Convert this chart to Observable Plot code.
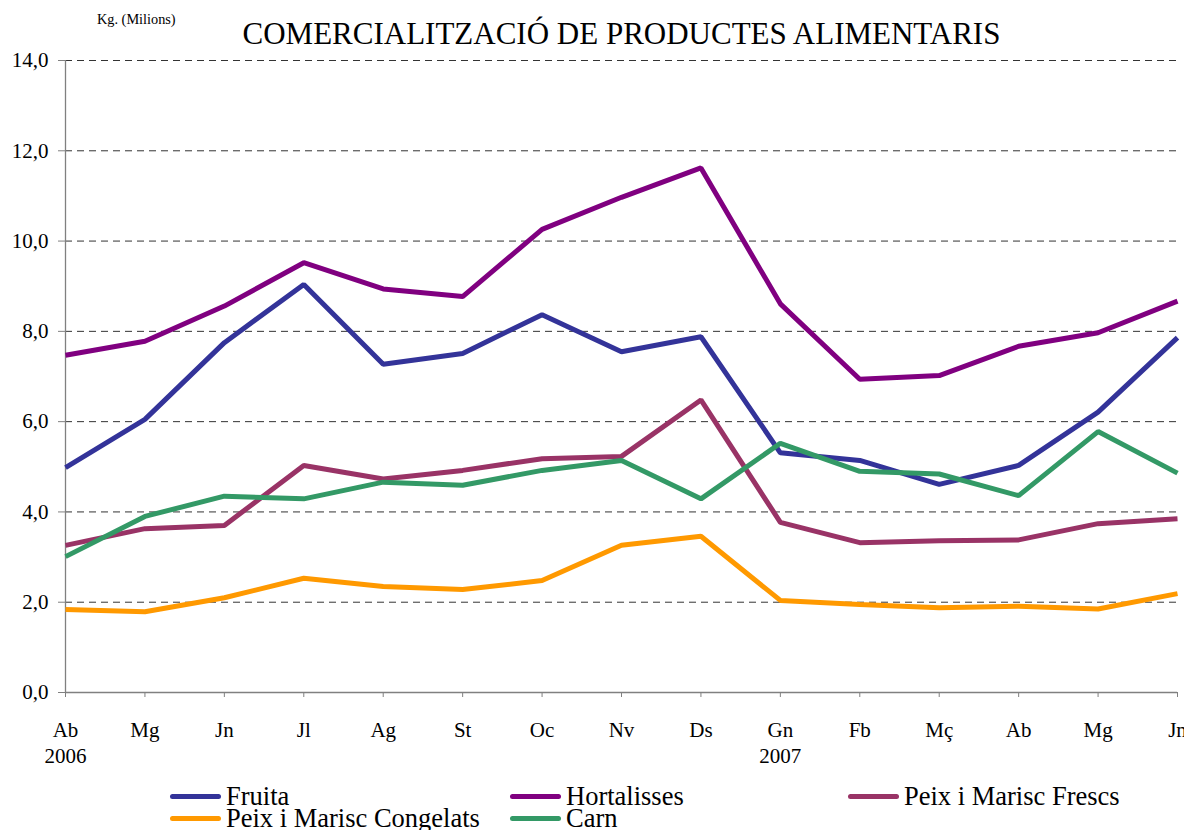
<!DOCTYPE html>
<html><head><meta charset="utf-8">
<script src="https://cdn.jsdelivr.net/npm/d3@7"></script>
<script src="https://cdn.jsdelivr.net/npm/@observablehq/plot@0.6"></script>
<style>
body{margin:0;background:#fff;font-family:"Liberation Serif","Times New Roman",serif;color:#000;}
#wrap{position:relative;width:1184px;height:830px;overflow:hidden;}
#chart{position:absolute;left:0;top:0;}
.t{position:absolute;line-height:1;white-space:nowrap;}
#title{left:0;width:1243px;text-align:center;top:18px;font-size:31px;}
#unit{left:97px;top:12px;font-size:14.3px;}
.leg{position:absolute;display:flex;align-items:center;font-size:26.5px;line-height:1;white-space:nowrap;}
.sw{width:51px;height:5px;border-radius:3px;margin-right:5px;}
</style>
</head><body>
<div id="wrap">
<div id="chart"></div>
<div class="t" id="title">COMERCIALITZACIÓ DE PRODUCTES ALIMENTARIS</div>
<div class="t" id="unit">Kg. (Milions)</div>
<div id="legend"></div>
</div>
<script>
const months = ["Ab","Mg","Jn","Jl","Ag","St","Oc","Nv","Ds","Gn","Fb","Mç","Ab","Mg","Jn"];
const years  = ["2006","","","","","","","","","2007","","","","",""];
const yTicks = [0,2,4,6,8,10,12,14];

const fruita      = [4.98,6.05,7.75,9.04,7.27,7.51,8.37,7.55,7.88,5.31,5.14,4.61,5.03,6.21,7.86];
const hortalisses = [7.47,7.78,8.56,9.52,8.94,8.77,10.26,10.97,11.62,8.61,6.94,7.02,7.67,7.97,8.67];
const peixFrescs  = [3.26,3.63,3.70,5.03,4.73,4.92,5.18,5.23,6.48,3.77,3.32,3.36,3.38,3.74,3.85];
const peixCongel  = [1.84,1.79,2.10,2.53,2.35,2.28,2.48,3.26,3.46,2.04,1.95,1.88,1.91,1.85,2.19];
const carn        = [3.01,3.90,4.35,4.29,4.66,4.59,4.92,5.14,4.29,5.52,4.90,4.84,4.36,5.78,4.86];

const seriesNames  = ["Fruita","Hortalisses","Peix i Marisc Frescs","Peix i Marisc Congelats","Carn"];
const seriesValues = [fruita, hortalisses, peixFrescs, peixCongel, carn];
const seriesColors = ["#333399","#800080","#993366","#FF9900","#339966"];

const data = [];
seriesNames.forEach((name, s) => seriesValues[s].forEach((v, i) => data.push({serie: name, i, v})));

const idx = months.map((_, i) => i);
const fmtY = d => d3.format(".1f")(d).replace(".", ",");

const plot = Plot.plot({
  width: 1184,
  height: 770,
  marginTop: 60,
  marginLeft: 65,
  marginRight: 7,
  marginBottom: 78,
  style: {fontFamily: '"Liberation Serif","Times New Roman",serif', fontSize: "21px", color: "#000", background: "#fff"},
  x: {type: "linear", domain: [0, months.length - 1]},
  y: {domain: [0, 14]},
  color: {domain: seriesNames, range: seriesColors},
  marks: [
    Plot.gridY(yTicks.filter(d => d > 0), {stroke: "#333", strokeOpacity: 1, strokeWidth: 1, strokeDasharray: "7,5"}),
    Plot.ruleX([0], {y1: 0, y2: 14, stroke: "#808080", strokeWidth: 1.3}),
    Plot.ruleY([0], {stroke: "#808080", strokeWidth: 1.3}),
    Plot.axisY(yTicks, {tickSize: 7, tickPadding: 10, tickFormat: fmtY, stroke: "#808080", fill: "#000", label: null}),
    Plot.axisX(idx, {tickSize: 5, tickPadding: 21, lineHeight: 1.238,
      tickFormat: i => years[i] ? months[i] + "\n" + years[i] : months[i],
      stroke: "#808080", fill: "#000", label: null}),
    Plot.line(data, {x: "i", y: "v", z: "serie", stroke: "serie", strokeWidth: 5, strokeLinejoin: "miter", strokeLinecap: "butt"})
  ]
});
document.getElementById("chart").appendChild(plot);

// legend
const legPos = [[170,783],[510,783],[848,783],[170,805],[510,805]];
const legend = document.getElementById("legend");
seriesNames.forEach((name, s) => {
  const d = document.createElement("div");
  d.className = "leg";
  d.style.left = legPos[s][0] + "px";
  d.style.top = legPos[s][1] + "px";
  const sw = document.createElement("div");
  sw.className = "sw";
  sw.style.background = seriesColors[s];
  d.appendChild(sw);
  d.appendChild(document.createTextNode(name));
  legend.appendChild(d);
});
</script>
</body></html>
